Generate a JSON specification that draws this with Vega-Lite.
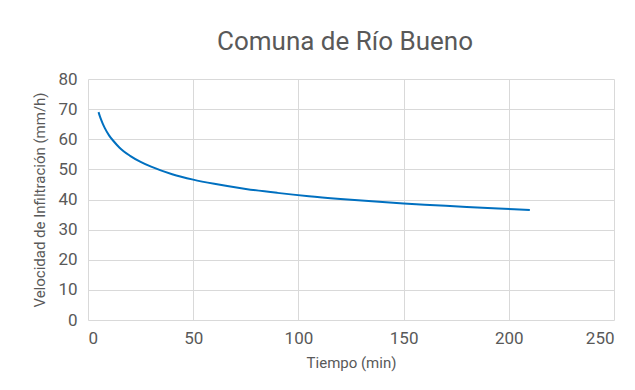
{
  "$schema": "https://vega.github.io/schema/vega-lite/v6.json",
  "width": 526,
  "height": 241,
  "autosize": "none",
  "padding": {"left": 88, "top": 79, "right": 21, "bottom": 70},
  "background": "white",
  "title": {
    "text": "Comuna de Río Bueno",
    "font": "Roboto",
    "fontSize": 26,
    "fontWeight": "normal",
    "color": "#595959",
    "offset": 15,
    "dx": -6
  },
  "data": {
    "values": [
      {"t": 5, "v": 69.0},
      {"t": 6, "v": 66.9},
      {"t": 7, "v": 65.2},
      {"t": 8, "v": 63.7},
      {"t": 10, "v": 61.3},
      {"t": 12, "v": 59.5},
      {"t": 15, "v": 57.2},
      {"t": 20, "v": 54.5},
      {"t": 25, "v": 52.5},
      {"t": 30, "v": 50.9},
      {"t": 40, "v": 48.4},
      {"t": 50, "v": 46.6},
      {"t": 60, "v": 45.2},
      {"t": 75, "v": 43.5},
      {"t": 90, "v": 42.2},
      {"t": 105, "v": 41.1},
      {"t": 120, "v": 40.2},
      {"t": 135, "v": 39.4},
      {"t": 150, "v": 38.7},
      {"t": 165, "v": 38.1},
      {"t": 180, "v": 37.5},
      {"t": 195, "v": 37.0},
      {"t": 210, "v": 36.5}
    ]
  },
  "mark": {"type": "line", "color": "#0070C0", "strokeWidth": 2, "interpolate": "monotone"},
  "encoding": {
    "x": {
      "field": "t",
      "type": "quantitative",
      "scale": {"domain": [0, 250], "nice": false, "zero": true},
      "axis": {
        "title": "Tiempo (min)",
        "values": [0, 50, 100, 150, 200, 250],
        "labelPadding": 10,
        "titlePadding": 9
      }
    },
    "y": {
      "field": "v",
      "type": "quantitative",
      "scale": {"domain": [0, 80], "nice": false},
      "axis": {
        "title": "Velocidad de Infiltración (mm/h)",
        "values": [0, 10, 20, 30, 40, 50, 60, 70, 80],
        "labelPadding": 11,
        "titlePadding": 10
      }
    }
  },
  "config": {
    "view": {"stroke": null},
    "axis": {
      "grid": true,
      "gridColor": "#d9d9d9",
      "gridWidth": 1,
      "domain": false,
      "ticks": false,
      "labelFont": "Roboto",
      "labelFontSize": 17,
      "labelColor": "#595959",
      "titleFont": "Roboto",
      "titleFontSize": 15,
      "titleFontWeight": "normal",
      "titleColor": "#595959"
    }
  }
}
